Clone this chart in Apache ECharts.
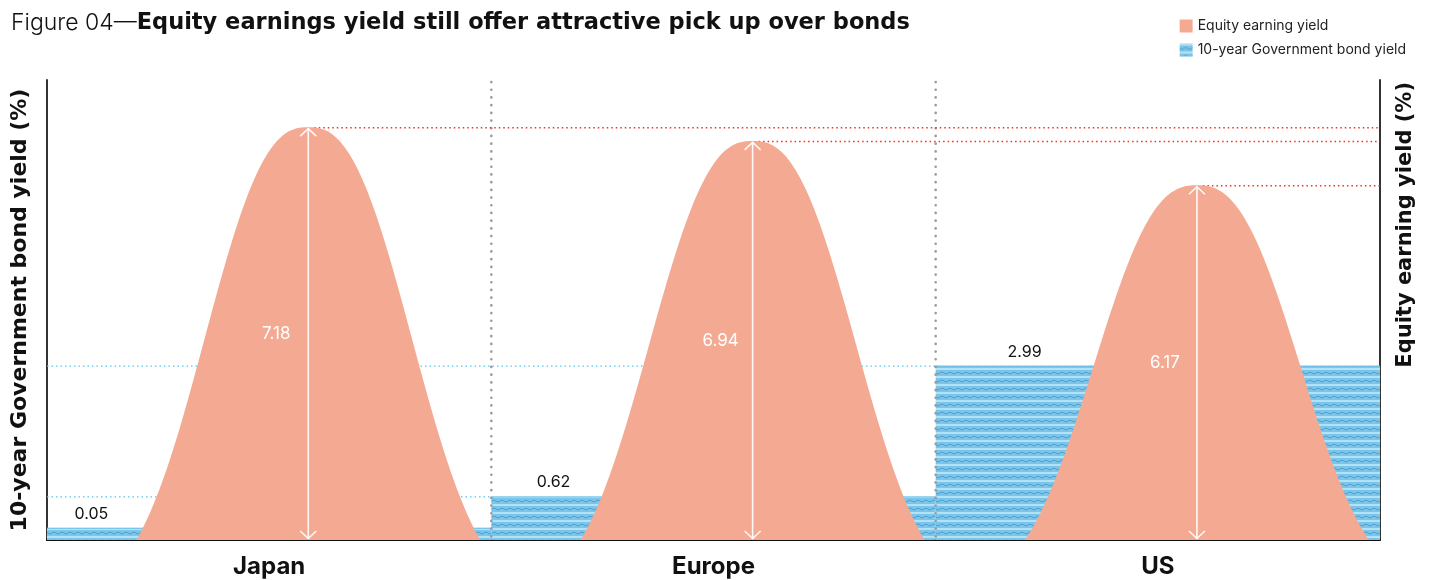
<!DOCTYPE html>
<html>
<head>
<meta charset="utf-8">
<script src="https://cdn.jsdelivr.net/npm/echarts@6/dist/echarts.min.js"></script>
<style>
  html, body { margin: 0; background: #fff; }
  #chart { width: 1433px; height: 580px; }
</style>
</head>
<body>
<div id="chart"></div>
<script>
// data
const regions = ['Japan', 'Europe', 'US'];
const bondYield = [0.05, 0.62, 2.99];
const equityYield = [7.18, 6.94, 6.17];

const FONT = 'Inter, "Liberation Sans", sans-serif';
const HEAVY_FONT = '"DejaVu Sans", Inter, sans-serif';
const PINK = '#f4a992';
// where the bond value label sits inside each band (fraction of band width)
const bondLabelPos = [0.1, 0.14, 0.2];

// wavy stripes used for the bond bars
function wavePattern() {
  const c = document.createElement('canvas');
  c.width = 16; c.height = 8;
  const g = c.getContext('2d');
  g.fillStyle = '#7cc5ea'; g.fillRect(0, 0, 16, 8);
  g.fillStyle = '#b4e2f5'; g.fillRect(0, 0, 16, 2);
  g.strokeStyle = '#4d9fd3'; g.lineWidth = 1;
  g.beginPath();
  for (let x = 0; x <= 16; x++) {
    const y = 5 + Math.sin(x / 8 * 2 * Math.PI) * 0.9;
    if (x) g.lineTo(x, y); else g.moveTo(x, y);
  }
  g.stroke();
  return c;
}
const bondFill = { image: wavePattern(), repeat: 'repeat' };

// bell outline (rounded gaussian-like, cut at the foot)
function bellPoints(cx, base, peak, halfW) {
  const s = 0.74, q = 2.5, g1 = Math.exp(-Math.pow(1 / s, q));
  const pts = [];
  for (let k = -80; k <= 80; k++) {
    const u = Math.abs(k) / 80;
    const h = (Math.exp(-Math.pow(u / s, q)) - g1) / (1 - g1);
    pts.push([cx + halfW * k / 80, base - h * (base - peak)]);
  }
  return pts;
}

function renderBond(params, api) {
  const i = api.value(0);
  const v = api.value(1);
  const band = api.size([1, 0])[0];
  const cs = params.coordSys;
  const bottom = cs.y + cs.height;
  const x0 = api.coord([i, 0])[0] - band / 2;
  const top = api.coord([i, v])[1];
  const children = [
    { type: 'rect', shape: { x: x0, y: top, width: band, height: bottom - top }, style: { fill: bondFill } },
    { type: 'line', shape: { x1: x0, y1: top + 0.5, x2: x0 + band, y2: top + 0.5 }, style: { stroke: '#6fc0e8', lineWidth: 1 } },
    {
      type: 'text',
      style: {
        text: v.toFixed(2), x: x0 + band * bondLabelPos[i], y: top - 14,
        fill: '#111', font: '16px ' + FONT, textAlign: 'center', textVerticalAlign: 'middle'
      }
    }
  ];
  if (i > 0) {
    children.push({
      type: 'line', shape: { x1: cs.x, y1: top + 0.5, x2: x0, y2: top + 0.5 },
      style: { stroke: '#5cc3ef', lineWidth: 1.3, lineDash: [1.5, 3] }
    });
    children.push({
      type: 'line', z2: 20, shape: { x1: x0, y1: cs.y + 2, x2: x0, y2: bottom },
      style: { stroke: '#9a9a9a', lineWidth: 2.6, lineDash: [0.1, 7.6], lineCap: 'round' }
    });
  }
  return { type: 'group', children: children };
}

function renderEquity(params, api) {
  const i = api.value(0);
  const v = api.value(1);
  const band = api.size([1, 0])[0];
  const cs = params.coordSys;
  const base = cs.y + cs.height;
  const cx = api.coord([i, 0])[0] + band * 0.088;
  const peak = api.coord([i, v])[1];
  const wht = 'rgba(255,255,255,0.92)';
  return {
    type: 'group',
    children: [
      {
        type: 'line', shape: { x1: cx + 6, y1: peak + 0.5, x2: cs.x + cs.width, y2: peak + 0.5 },
        style: { stroke: '#f5301c', lineWidth: 1.5, lineDash: [1.5, 3] }
      },
      { type: 'polygon', shape: { points: bellPoints(cx, base, peak, band * 0.387) }, style: { fill: PINK } },
      { type: 'line', shape: { x1: cx, y1: peak + 1, x2: cx, y2: base - 1 }, style: { stroke: wht, lineWidth: 1.6 } },
      { type: 'polyline', shape: { points: [[cx - 8, peak + 9], [cx, peak + 1.5], [cx + 8, peak + 9]] }, style: { stroke: wht, lineWidth: 1.6, fill: null } },
      { type: 'polyline', shape: { points: [[cx - 8, base - 9], [cx, base - 1.5], [cx + 8, base - 9]] }, style: { stroke: wht, lineWidth: 1.6, fill: null } },
      {
        type: 'text',
        style: {
          text: v.toFixed(2), x: cx - 32, y: (peak + base) / 2,
          fill: '#fff', font: '17px ' + FONT, textAlign: 'center', textVerticalAlign: 'middle'
        }
      }
    ]
  };
}

const chart = echarts.init(document.getElementById('chart'));
chart.setOption({
  animation: false,
  textStyle: { fontFamily: FONT },
  title: {
    left: 6, top: 7,
    text: '{a|Figure 04—}{b|Equity earnings yield still offer attractive pick up over bonds}',
    textStyle: {
      rich: {
        a: { fontSize: 23, fontWeight: 300, color: '#111', fontFamily: FONT },
        b: { fontSize: 22.5, fontWeight: 'bold', color: '#111', fontFamily: HEAVY_FONT }
      }
    }
  },
  legend: {
    orient: 'vertical', right: 22, top: 14,
    itemWidth: 13, itemHeight: 13, itemGap: 10,
    textStyle: { fontSize: 14, color: '#222' },
    data: [
      { name: 'Equity earning yield', icon: 'rect' },
      { name: '10-year Government bond yield', icon: 'rect' }
    ]
  },
  grid: { left: 47, right: 53, top: 80, bottom: 40 },
  xAxis: {
    type: 'category', data: regions,
    axisLine: { onZero: false, lineStyle: { color: '#111', width: 2 } },
    axisTick: { show: false },
    axisLabel: { fontSize: 24, fontWeight: 700, color: '#111', margin: 15 }
  },
  yAxis: [
    {
      type: 'value', position: 'left', min: -0.17, max: 8.17,
      axisLine: { show: true, lineStyle: { color: '#333', width: 2 } },
      axisTick: { show: false }, axisLabel: { show: false }, splitLine: { show: false },
      name: '10-year Government bond yield (%)', nameLocation: 'middle', nameRotate: 90, nameGap: 16,
      nameTextStyle: { fontSize: 22, fontWeight: 'bold', color: '#111', fontFamily: HEAVY_FONT }
    },
    {
      type: 'value', position: 'right', min: 0, max: 8,
      axisLine: { show: true, lineStyle: { color: '#333', width: 2 } },
      axisTick: { show: false }, axisLabel: { show: false }, splitLine: { show: false }
    }
  ],
  graphic: [{
    type: 'text', x: 1406, y: 82, rotation: Math.PI / 2,
    style: {
      text: 'Equity earning yield (%)', font: 'bold 21px ' + HEAVY_FONT, fill: '#111',
      textAlign: 'right', textVerticalAlign: 'middle'
    }
  }],
  series: [
    {
      name: '10-year Government bond yield', type: 'custom', yAxisIndex: 0, z: 2,
      itemStyle: { color: bondFill },
      data: bondYield.map((v, i) => [i, v]),
      renderItem: renderBond
    },
    {
      name: 'Equity earning yield', type: 'custom', yAxisIndex: 1, z: 3,
      itemStyle: { color: PINK },
      data: equityYield.map((v, i) => [i, v]),
      renderItem: renderEquity
    }
  ]
});
</script>
</body>
</html>
